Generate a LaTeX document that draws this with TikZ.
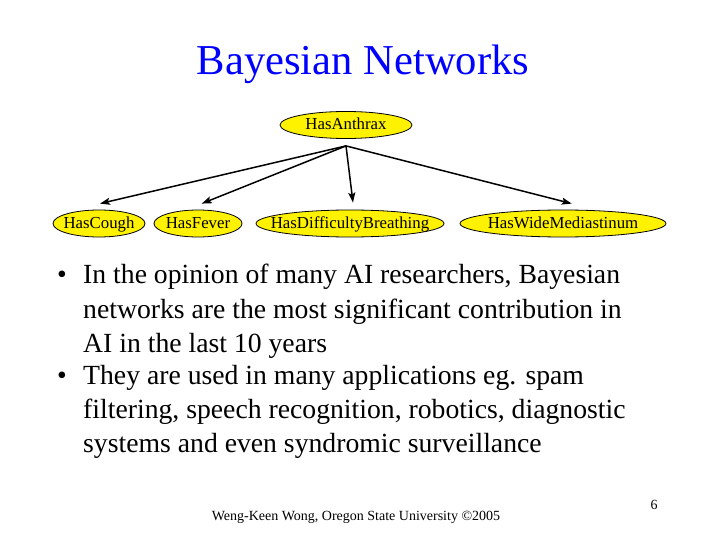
\documentclass[tikz,border=0pt]{standalone}
\usepackage{fontspec}
\setmainfont{Liberation Serif}
\usetikzlibrary{shapes.geometric,arrows.meta}

\tikzset{
  varnode/.style={ellipse, draw, fill=yellow, line width=0.8pt, inner sep=-30pt,
    minimum height=27pt, text height=12pt, text depth=2pt,
    font=\fontsize{16.8}{19}\selectfont},
  causal/.style={line width=1.5pt, -{Stealth[length=10pt,width=7pt,inset=2pt]}},
  bodyline/.style={anchor=base west, inner sep=0pt, font=\fontsize{27.7}{34}\selectfont},
  bulletmark/.style={anchor=base, inner sep=0pt, font=\fontsize{27.7}{34}\selectfont},
  footline/.style={anchor=base, inner sep=0pt, font=\fontsize{14}{16}\selectfont},
}

\begin{document}
\begin{tikzpicture}[x=1pt,y=-1pt]
\useasboundingbox (0,0) rectangle (720,540);
% title
\node[text=blue, anchor=base, inner sep=0pt, font=\fontsize{42.6}{48}\selectfont] (title) at (363,75) {Bayesian Networks};
% the network
\node[varnode, minimum width=132pt] (anthrax) at (346,125) {HasAnthrax};
\node[varnode, minimum width=92pt] (cough) at (99,223.5) {HasCough};
\node[varnode, minimum width=88pt] (fever) at (198,223.5) {HasFever};
\node[varnode, minimum width=188pt] (breathing) at (350,223.5) {HasDifficultyBreathing};
\node[varnode, minimum width=206pt] (mediastinum) at (563,223.5) {HasWideMediastinum};
\coordinate (hub) at ([yshift=-7pt]anthrax.south);
\draw[causal] (hub) -- ([xshift=1pt,yshift=6pt]cough.north);
\draw[causal] (hub) -- ([xshift=3.7pt,yshift=6pt]fever.north);
\draw[causal] (hub) -- ([xshift=3pt,yshift=7pt]breathing.north);
\draw[causal] (hub) -- ([xshift=8.7pt,yshift=6pt]mediastinum.north);
% bullets
\node[bulletmark] (b1) at (62,283) {•};
\node[bodyline] (l11) at (83,283) {In the opinion of many AI researchers, Bayesian};
\node[bodyline] (l12) at (83,318) {networks are the most significant contribution in};
\node[bodyline] (l13) at (83,352) {AI in the last 10 years};
\node[bulletmark] (b2) at (62,384) {•};
\node[bodyline] (l21) at (83,384) {They are used in many applications eg. spam};
\node[bodyline] (l22) at (83,418) {filtering, speech recognition, robotics, diagnostic};
\node[bodyline] (l23) at (83,452) {systems and even syndromic surveillance};
% footer
\node[footline] (credit) at (356,520) {Weng-Keen Wong, Oregon State University ©2005};
\node[footline] (page) at (654,509) {6};
\end{tikzpicture}
\end{document}
